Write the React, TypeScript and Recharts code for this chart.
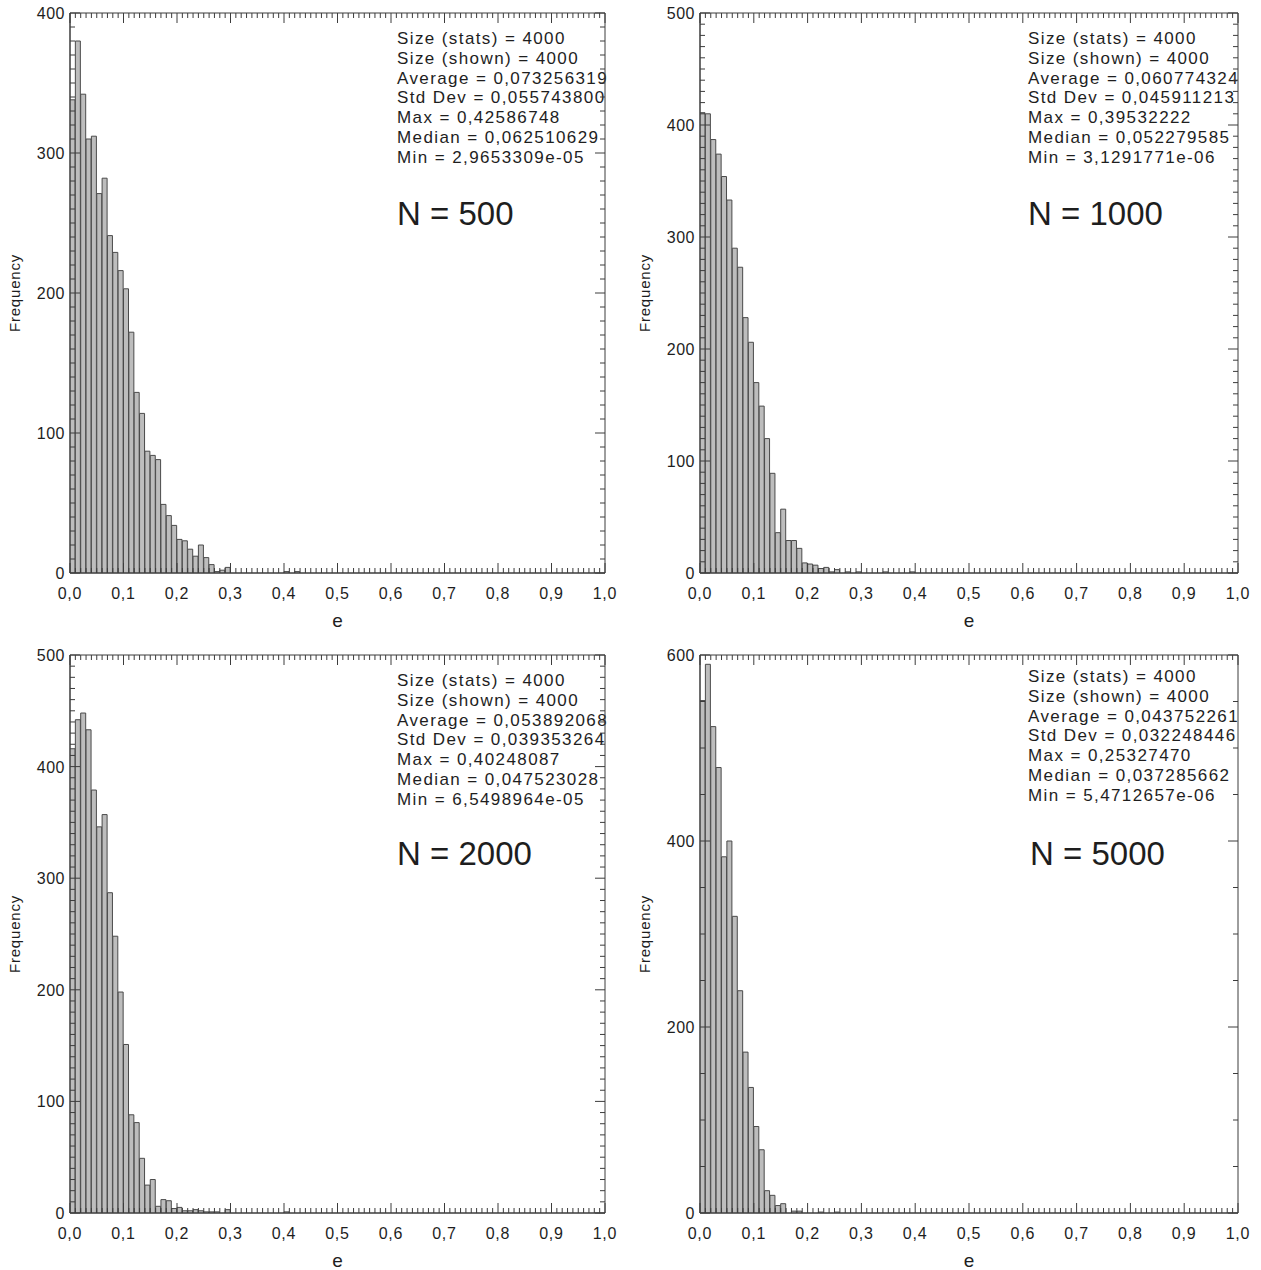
import { ComposedChart, Bar, XAxis, YAxis, ReferenceArea } from 'recharts';

// Histogram counts per bin of width 0.01 on e
const counts500 = [
  338, 380, 342, 310, 312, 271, 282, 241, 229, 216,
  203, 172, 129, 114, 87, 84, 81, 49, 41, 34,
  24, 23, 17, 12, 20, 11, 6, 1, 2, 4,
  0, 0, 0, 0, 0, 0, 0, 0, 0, 0,
  1, 0, 1, 0, 0, 0, 0, 0, 0, 0,
  0, 0, 0, 0, 0, 0, 0, 0, 0, 0,
  0, 0, 0, 0, 0, 0, 0, 0, 0, 0,
  0, 0, 0, 0, 0, 0, 0, 0, 0, 0,
  0, 0, 0, 0, 0, 0, 0, 0, 0, 0,
  0, 0, 0, 0, 0, 0, 0, 0, 0, 0,
];
const counts1000 = [
  411, 410, 387, 374, 354, 333, 290, 273, 228, 206,
  170, 149, 120, 89, 36, 57, 29, 29, 22, 9,
  8, 7, 4, 5, 1, 3, 0, 1, 0, 1,
  0, 0, 0, 0, 1, 0, 0, 0, 0, 1,
  0, 0, 0, 0, 0, 0, 0, 0, 0, 0,
  0, 0, 0, 0, 0, 0, 0, 0, 0, 0,
  0, 0, 0, 0, 0, 0, 0, 0, 0, 0,
  0, 0, 0, 0, 0, 0, 0, 0, 0, 0,
  0, 0, 0, 0, 0, 0, 0, 0, 0, 0,
  0, 0, 0, 0, 0, 0, 0, 0, 0, 0,
];
const counts2000 = [
  416, 442, 448, 433, 379, 346, 357, 287, 248, 198,
  151, 88, 81, 49, 25, 30, 6, 12, 11, 4,
  5, 2, 2, 3, 2, 1, 1, 1, 0, 3,
  0, 0, 0, 0, 0, 0, 0, 0, 0, 0,
  1, 0, 0, 0, 0, 0, 0, 0, 0, 0,
  0, 0, 0, 0, 0, 0, 0, 0, 0, 0,
  0, 0, 0, 0, 0, 0, 0, 0, 0, 0,
  0, 0, 0, 0, 0, 0, 0, 0, 0, 0,
  0, 0, 0, 0, 0, 0, 0, 0, 0, 0,
  0, 0, 0, 0, 0, 0, 0, 0, 0, 0,
];
const counts5000 = [
  551, 590, 523, 479, 383, 400, 319, 239, 173, 135,
  93, 68, 24, 19, 8, 10, 0, 2, 2, 0,
  0, 0, 1, 0, 0, 1, 0, 0, 0, 0,
  0, 0, 0, 0, 0, 0, 0, 0, 0, 0,
  0, 0, 0, 0, 0, 0, 0, 0, 0, 0,
  0, 0, 0, 0, 0, 0, 0, 0, 0, 0,
  0, 0, 0, 0, 0, 0, 0, 0, 0, 0,
  0, 0, 0, 0, 0, 0, 0, 0, 0, 0,
  0, 0, 0, 0, 0, 0, 0, 0, 0, 0,
  0, 0, 0, 0, 0, 0, 0, 0, 0, 0,
];

const xMajorTicks = [0, 0.1, 0.2, 0.3, 0.4, 0.5, 0.6, 0.7, 0.8, 0.9, 1.0];
const xTickLabels = ['0,0', '0,1', '0,2', '0,3', '0,4', '0,5', '0,6', '0,7', '0,8', '0,9', '1,0'];

const yLabels500 = [0, 100, 200, 300, 400];
const yLabels1000 = [0, 100, 200, 300, 400, 500];
const yLabels2000 = [0, 100, 200, 300, 400, 500];
const yLabels5000 = [0, 200, 400, 600];

const stats500 = [
  'Size (stats) = 4000',
  'Size (shown) = 4000',
  'Average = 0,073256319',
  'Std Dev = 0,055743800',
  'Max = 0,42586748',
  'Median = 0,062510629',
  'Min = 2,9653309e-05',
];
const stats1000 = [
  'Size (stats) = 4000',
  'Size (shown) = 4000',
  'Average = 0,060774324',
  'Std Dev = 0,045911213',
  'Max = 0,39532222',
  'Median = 0,052279585',
  'Min = 3,1291771e-06',
];
const stats2000 = [
  'Size (stats) = 4000',
  'Size (shown) = 4000',
  'Average = 0,053892068',
  'Std Dev = 0,039353264',
  'Max = 0,40248087',
  'Median = 0,047523028',
  'Min = 6,5498964e-05',
];
const stats5000 = [
  'Size (stats) = 4000',
  'Size (shown) = 4000',
  'Average = 0,043752261',
  'Std Dev = 0,032248446',
  'Max = 0,25327470',
  'Median = 0,037285662',
  'Min = 5,4712657e-06',
];

const FONT = '"Liberation Sans", Arial, Helvetica, sans-serif';
const AXIS = '#3c3c3c';
const TEXT = '#1e1e1e';
const X_MARGIN = 4;
const Y_MARGIN = 4;

// every 0.01 gets a tick, labelled ones every 0.1
const xAllTicks = Array.from({ length: 101 }, (_, i) => i / 100);

function makeXTick(plotH: number) {
  return (props: any) => {
    const { x, y, payload } = props;
    const v = payload.value as number;
    const axisY = y - X_MARGIN;
    const majorIdx = xMajorTicks.findIndex(t => Math.abs(t - v) < 1e-6);
    const len = majorIdx >= 0 ? 10 : 5;
    const topY = axisY - plotH;
    return (
      <g>
        <line x1={x} x2={x} y1={axisY} y2={axisY - len} stroke={AXIS} strokeWidth={1} />
        <line x1={x} x2={x} y1={topY} y2={topY + len} stroke={AXIS} strokeWidth={1} />
        {majorIdx >= 0 && (
          <text x={x} y={axisY + 26} textAnchor="middle" fontSize={16} letterSpacing={0.8} fill={TEXT} fontFamily={FONT}>
            {xTickLabels[majorIdx]}
          </text>
        )}
      </g>
    );
  };
}

function makeYTick(plotW: number, labels: number[]) {
  return (props: any) => {
    const { x, y, payload } = props;
    const v = payload.value as number;
    const axisX = x + Y_MARGIN;
    const major = labels.includes(v);
    const len = major ? 10 : 5;
    const rightX = axisX + plotW;
    return (
      <g>
        <line x1={axisX} x2={axisX + len} y1={y} y2={y} stroke={AXIS} strokeWidth={1} />
        <line x1={rightX} x2={rightX - len} y1={y} y2={y} stroke={AXIS} strokeWidth={1} />
        {major && (
          <text x={axisX - 5} y={y + 6} textAnchor="end" fontSize={16} letterSpacing={0.5} fill={TEXT} fontFamily={FONT}>
            {v}
          </text>
        )}
      </g>
    );
  };
}

type PanelProps = {
  counts: number[];
  yMax: number;
  yLabels: number[];
  yMinorStep: number;
  stats: string[];
  nLabel: string;
  width: number;
  top: number;
  right: number;
  plotW: number;
  statsX: number;
  statsY: number;
  nX: number;
};

function Panel(p: PanelProps) {
  const data = p.counts.map((c, i) => ({ x: i / 100 + 0.005, count: c }));
  const height = 640;
  const xAxisH = 67;
  const plotH = height - p.top - xAxisH;
  const yTicks = Array.from({ length: p.yMax / p.yMinorStep + 1 }, (_, i) => i * p.yMinorStep);

  return (
    <ComposedChart
      width={p.width}
      height={height}
      data={data}
      margin={{ top: p.top, right: p.right, bottom: 0, left: 0 }}
      barCategoryGap={0}
      barGap={0}
    >
      <XAxis
        dataKey="x"
        type="number"
        domain={[0, 1]}
        ticks={xAllTicks}
        interval={0}
        allowDataOverflow
        height={xAxisH}
        tickSize={0}
        tickMargin={X_MARGIN}
        tickLine={false}
        axisLine={{ stroke: AXIS }}
        tick={makeXTick(plotH)}
        label={{ value: 'e', position: 'insideBottom', offset: 13, fontSize: 19, fill: TEXT, fontFamily: FONT }}
      />
      <YAxis
        type="number"
        domain={[0, p.yMax]}
        ticks={yTicks}
        interval={0}
        allowDataOverflow
        width={70}
        tickSize={0}
        tickMargin={Y_MARGIN}
        tickLine={false}
        axisLine={{ stroke: AXIS }}
        tick={makeYTick(p.plotW, p.yLabels)}
        label={{
          value: 'Frequency',
          angle: -90,
          position: 'insideLeft',
          offset: 15,
          fontSize: 15,
          fill: TEXT,
          fontFamily: FONT,
          style: { textAnchor: 'middle', letterSpacing: '0.8px' },
        }}
      />
      <Bar
        dataKey="count"
        fill="#bdbdbd"
        stroke="#4a4a4a"
        strokeWidth={1}
        isAnimationActive={false}
      />
      <ReferenceArea x1={0} x2={1} y1={0} y2={p.yMax} fill="none" stroke={AXIS} strokeWidth={1} ifOverflow="visible" />
      <text fontFamily={FONT} fontSize={17} fill={TEXT} letterSpacing={1.4}>
        {p.stats.map((s, i) => (
          <tspan key={i} x={p.statsX} y={p.statsY + i * 19.8}>
            {s}
          </tspan>
        ))}
      </text>
      <text x={p.nX} y={225} fontFamily={FONT} fontSize={33} fill={TEXT}>
        {p.nLabel}
      </text>
    </ComposedChart>
  );
}

export default function App() {
  return (
    <div style={{ width: 1261, height: 1270, background: '#fff', display: 'flex', flexWrap: 'wrap', overflow: 'hidden' }}>
      <style>{'body{margin:0;background:#fff}'}</style>
      <Panel counts={counts500} yMax={400} yLabels={yLabels500} yMinorStep={10} stats={stats500}
        nLabel="N = 500" width={630} top={13} right={25} plotW={535} statsX={397} statsY={44} nX={397} />
      <Panel counts={counts1000} yMax={500} yLabels={yLabels1000} yMinorStep={10} stats={stats1000}
        nLabel="N = 1000" width={631} top={13} right={23} plotW={538} statsX={398} statsY={44} nX={398} />
      <Panel counts={counts2000} yMax={500} yLabels={yLabels2000} yMinorStep={10} stats={stats2000}
        nLabel="N = 2000" width={630} top={15} right={25} plotW={535} statsX={397} statsY={46} nX={397} />
      <Panel counts={counts5000} yMax={600} yLabels={yLabels5000} yMinorStep={50} stats={stats5000}
        nLabel="N = 5000" width={631} top={15} right={23} plotW={538} statsX={398} statsY={42} nX={400} />
    </div>
  );
}
